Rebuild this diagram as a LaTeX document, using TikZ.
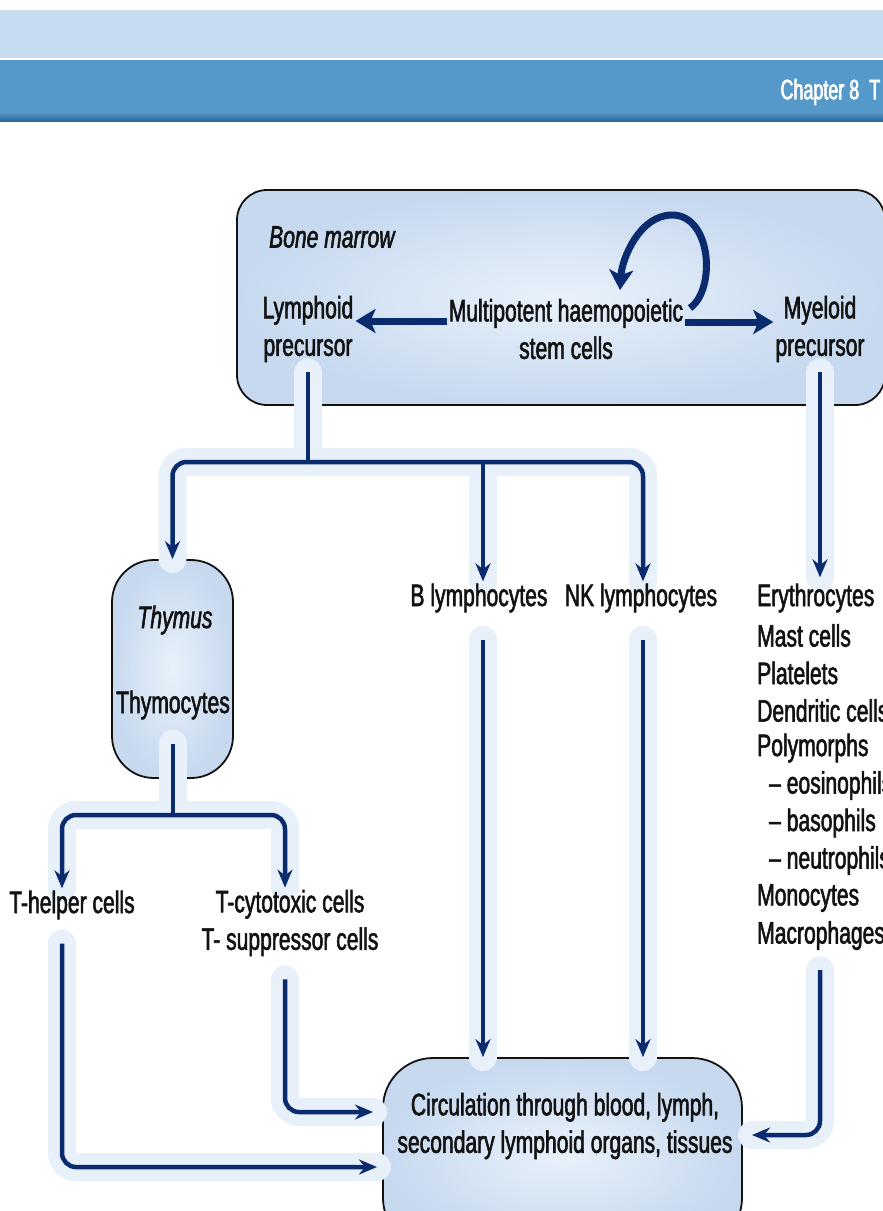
\documentclass[tikz,border=0pt]{standalone}
\usepackage{fontspec}
\setmainfont{Liberation Sans}[FakeStretch=0.68,FakeBold=1.8]
\newfontfamily\chapfont{Liberation Sans}[FakeStretch=0.64,FakeBold=2.2]
\usetikzlibrary{arrows.meta,positioning,calc}
\pgfdeclarelayer{back}
\pgfdeclarelayer{glow}
\pgfsetlayers{back,glow,main}
\definecolor{navy}{HTML}{0A2C6E}
\definecolor{halo}{HTML}{E8F0FA}
\definecolor{cellin}{HTML}{E9F1FA}
\definecolor{cellout}{HTML}{C6D9EF}
\definecolor{bandlight}{HTML}{C8DCEF}
\definecolor{banddark}{HTML}{5598CA}
\definecolor{bandedge}{HTML}{2C6A9E}
\definecolor{ink}{HTML}{121212}
\tikzset{
  organ/.style={rounded corners=#1,draw=ink,line width=1.8pt,inner color=cellin,
    outer color=cellout},
  organ/.default=30pt,
  lbl/.style={font=\fontsize{31}{37.5}\selectfont,text=ink,align=center,inner sep=2pt},
  place/.style={lbl,font=\fontsize{31}{37.5}\selectfont\itshape},
  link/.style={draw=navy,line width=4.5pt,rounded corners=14pt,
    -{Stealth[length=18pt,width=15pt]}},
  halo/.style={draw=halo,line width=28pt,rounded corners=14pt,line cap=round,-},
  bigarr/.style={draw=navy,line width=7pt,-{Stealth[length=20pt,width=24pt,inset=5pt]}},
}
% all connectors, drawn once as glow and once as line
\newcommand\wires[1]{%
  \draw[#1,-,shorten <=8pt] (lym.south) -- (lym.south |- bus);
  \draw[#1] (lym.south |- bus) -| (thy.north);
  \draw[#1] (lym.south |- bus) -| (nkx |- nk.north);
  \draw[#1] (bx |- bus) -- (bx |- blym.north);
  \draw[#1,shorten <=8pt,shorten >=6pt] (mye.south -| myx) -- (my1.north -| myx);
  \draw[#1,shorten <=25pt] (blym.south -| bx) -- (bx |- circ.north);
  \draw[#1,shorten <=25pt] (nk.south -| nkx) -- (nkx |- circ.north);
  \draw[#1,-,shorten <=22pt] (thc.south) -- (thc.south |- tbus);
  \draw[#1] (thc.south |- tbus) -| (thx |- th.north);
  \draw[#1] (thc.south |- tbus) -| (tcx |- tc.north);
  \draw[#1,shorten <=22pt] (th.south -| thx) |- (thin);
  \draw[#1,shorten <=21pt] (tc.south -| tcx) |- (tcin);
  \draw[#1,shorten <=20pt] (my10.south -| myx) |- (myin);
}
\begin{document}
\begin{tikzpicture}[x=1pt,y=-1pt]
  \useasboundingbox (0,0) rectangle (883,1211);
  \clip (0,0) rectangle (883,1211);

  \begin{pgfonlayer}{back}
    \fill[bandlight] (0,10) rectangle (883,58);
    \fill[banddark] (0,60) rectangle (883,112);
    \shade[top color=banddark,bottom color=bandedge] (0,112) rectangle (883,121);
    \node[organ,minimum width=648pt,minimum height=215pt] (bm) at (561,297.5) {};
    \node[organ=42pt,minimum width=121pt,minimum height=218pt] (thy) at (172.5,669) {};
    \node[organ=50pt,minimum width=359pt,minimum height=190pt] (circ) at (562.5,1153) {};
  \end{pgfonlayer}

  \node[font=\chapfont\fontsize{28}{30}\selectfont,text=white,anchor=west] (chap)
    at (777,92) {Chapter 8\hspace{10pt}T};

  \node[place,anchor=west] (bmname) at (267,237) {Bone marrow};
  \node[lbl] (lym) at (308,329) {Lymphoid\\precursor};
  \node[lbl] (msc) at (566,329) {Multipotent haemopoietic\\stem cells};
  \node[lbl] (mye) at (820,329) {Myeloid\\precursor};

  \node[place] (thyname) at (175,620) {Thymus};
  \node[lbl] (thc) at (173,705) {Thymocytes};
  \node[lbl] (blym) at (479,598) {B lymphocytes};
  \node[lbl] (nk) at (641,598) {NK lymphocytes};
  \node[lbl] (th) at (72,905) {T-helper cells};
  \node[lbl] (tc) at (290,923) {T-cytotoxic cells\\T- suppressor cells};
  \node[lbl] (circtext) at (565,1126)
    {Circulation through blood, lymph,\\secondary lymphoid organs, tissues};

  \foreach \cell [count=\k] in {Erythrocytes,Mast cells,Platelets,Dendritic cells,
      Polymorphs,{\hspace*{12pt}– eosinophils},{\hspace*{12pt}– basophils},
      {\hspace*{12pt}– neutrophils},Monocytes,Macrophages}
    \node[lbl,anchor=west,inner sep=0pt] (my\k) at (757,{598+37.5*(\k-1)}) {\cell};

  \coordinate (bus) at (0,462);
  \coordinate (tbus) at (0,815);
  \coordinate (bx) at (483,0);
  \coordinate (nkx) at (643,0);
  \coordinate (myx) at (820,0);
  \coordinate (thx) at (62,0);
  \coordinate (tcx) at (285,0);
  \coordinate (thin) at (377,1167);
  \coordinate (tcin) at (373,1112);
  \coordinate (myin) at (752,1135);
  \coordinate (loopa) at (690,308);
  \coordinate (loopb) at (620,290);

  \begin{pgfonlayer}{glow}
    \wires{halo}
  \end{pgfonlayer}
  \wires{link}

  \draw[bigarr] ([yshift=8pt]msc.west) -- ([yshift=8pt]lym.east);
  \draw[bigarr] ([yshift=7pt]msc.east) -- ([yshift=7pt]mye.west);
  \draw[bigarr] (loopa) .. controls (716,290) and (712,215) .. (672,215)
    .. controls (640,215) and (622,258) .. (loopb);
\end{tikzpicture}
\end{document}
